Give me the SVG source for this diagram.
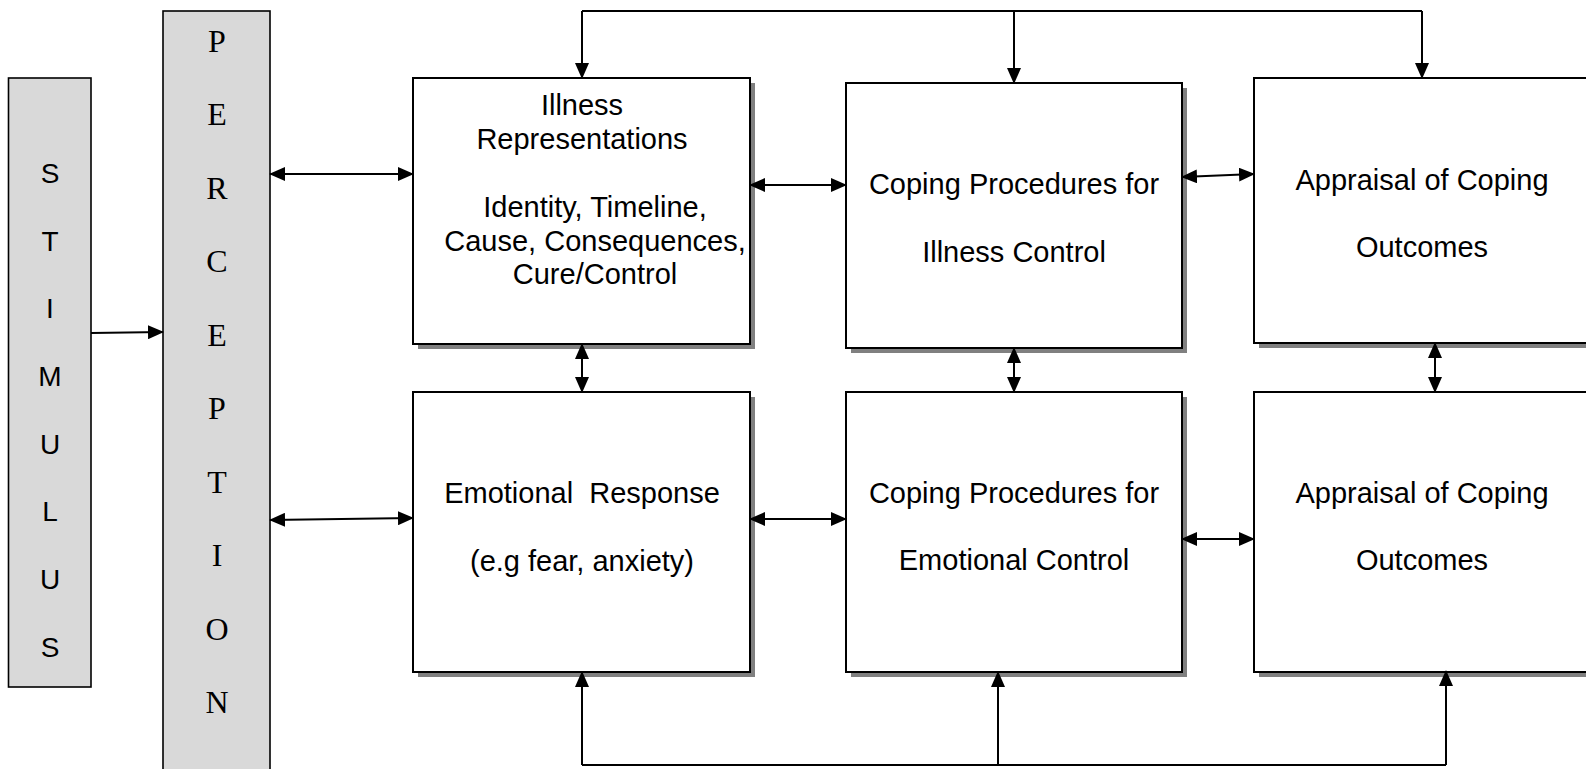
<svg xmlns="http://www.w3.org/2000/svg" width="1586" height="769" viewBox="0 0 1586 769">
<style>
.side{fill:#d9d9d9;stroke:#000;stroke-width:1.6}
.box{fill:#fff;stroke:#000;stroke-width:2}
.shadow{fill:#808080}
.serif{font-family:"Liberation Serif","Times New Roman",serif;font-size:32px;fill:#000;text-anchor:middle}
.sans{font-family:"Liberation Sans",Arial,sans-serif;font-size:28px;fill:#000;text-anchor:middle}
.lbl{font-family:"Liberation Sans",Arial,sans-serif;font-size:29px;fill:#000;text-anchor:middle}
.ln{fill:none;stroke:#000;stroke-width:2}
.arr{fill:none;stroke:#000;stroke-width:2;marker-end:url(#ah)}
.dbl{fill:none;stroke:#000;stroke-width:2;marker-end:url(#ah);marker-start:url(#ah)}
</style>
<defs>
<marker id="ah" markerUnits="userSpaceOnUse" markerWidth="16" markerHeight="14" refX="15" refY="7" orient="auto-start-reverse" viewBox="0 0 16 14">
<path d="M0,0 L16,7 L0,14 z" fill="#000"/>
</marker>
</defs>
<rect width="1586" height="769" fill="#fff"/>

<g id="stimulus">
<rect class="side" x="8.5" y="78" width="82.5" height="609"/>
<text class="sans" x="50" y="183">S</text>
<text class="sans" x="50" y="251">T</text>
<text class="sans" x="50" y="318">I</text>
<text class="sans" x="50" y="386">M</text>
<text class="sans" x="50" y="454">U</text>
<text class="sans" x="50" y="521">L</text>
<text class="sans" x="50" y="589">U</text>
<text class="sans" x="50" y="657">S</text>
</g>

<g id="perception">
<rect class="side" x="163" y="11" width="107" height="780"/>
<text class="serif" x="217" y="52">P</text>
<text class="serif" x="217" y="125">E</text>
<text class="serif" x="217" y="199">R</text>
<text class="serif" x="217" y="272">C</text>
<text class="serif" x="217" y="346">E</text>
<text class="serif" x="217" y="419">P</text>
<text class="serif" x="217" y="493">T</text>
<text class="serif" x="217" y="566">I</text>
<text class="serif" x="217" y="640">O</text>
<text class="serif" x="217" y="713">N</text>
</g>

<g id="illness-representations">
<rect class="shadow" x="418" y="83" width="337" height="266"/>
<rect class="box" x="413" y="78" width="337" height="266"/>
<text class="lbl" x="582" y="115">Illness</text>
<text class="lbl" x="582" y="149">Representations</text>
<text class="lbl" x="595" y="217">Identity, Timeline,</text>
<text class="lbl" x="595" y="251">Cause, Consequences,</text>
<text class="lbl" x="595" y="284">Cure/Control</text>
</g>

<g id="emotional-response">
<rect class="shadow" x="418" y="397" width="337" height="280"/>
<rect class="box" x="413" y="392" width="337" height="280"/>
<text class="lbl" x="582" y="503" xml:space="preserve">Emotional  Response</text>
<text class="lbl" x="582" y="571">(e.g fear, anxiety)</text>
</g>

<g id="coping-illness">
<rect class="shadow" x="851" y="88" width="336" height="265"/>
<rect class="box" x="846" y="83" width="336" height="265"/>
<text class="lbl" x="1014" y="194">Coping Procedures for</text>
<text class="lbl" x="1014" y="262">Illness Control</text>
</g>

<g id="coping-emotional">
<rect class="shadow" x="851" y="397" width="336" height="280"/>
<rect class="box" x="846" y="392" width="336" height="280"/>
<text class="lbl" x="1014" y="503">Coping Procedures for</text>
<text class="lbl" x="1014" y="570">Emotional Control</text>
</g>

<g id="appraisal-illness">
<rect class="shadow" x="1259" y="83" width="340" height="265"/>
<rect class="box" x="1254" y="78" width="340" height="265"/>
<text class="lbl" x="1422" y="190">Appraisal of Coping</text>
<text class="lbl" x="1422" y="257">Outcomes</text>
</g>

<g id="appraisal-emotional">
<rect class="shadow" x="1259" y="397" width="340" height="280"/>
<rect class="box" x="1254" y="392" width="340" height="280"/>
<text class="lbl" x="1422" y="503">Appraisal of Coping</text>
<text class="lbl" x="1422" y="570">Outcomes</text>
</g>

<g id="connectors">
<line class="arr" x1="91" y1="333" x2="163" y2="332"/>
<line class="dbl" x1="270" y1="174" x2="413" y2="174"/>
<line class="dbl" x1="270" y1="520" x2="413" y2="518"/>
<line class="dbl" x1="750" y1="185" x2="846" y2="185"/>
<line class="dbl" x1="750" y1="519" x2="846" y2="519"/>
<line class="dbl" x1="1182" y1="177" x2="1254" y2="174"/>
<line class="dbl" x1="1182" y1="539" x2="1254" y2="539"/>
<line class="dbl" x1="582" y1="344" x2="582" y2="392"/>
<line class="dbl" x1="1014" y1="348" x2="1014" y2="392"/>
<line class="dbl" x1="1435" y1="343" x2="1435" y2="392"/>
<polyline class="ln" points="582,11 1422,11"/>
<line class="arr" x1="582" y1="11" x2="582" y2="78"/>
<line class="arr" x1="1014" y1="11" x2="1014" y2="83"/>
<line class="arr" x1="1422" y1="11" x2="1422" y2="78"/>
<polyline class="ln" points="582,765 1446,765"/>
<line class="arr" x1="582" y1="765" x2="582" y2="672"/>
<line class="arr" x1="998" y1="765" x2="998" y2="672"/>
<line class="arr" x1="1446" y1="765" x2="1446" y2="671"/>
</g>
</svg>
